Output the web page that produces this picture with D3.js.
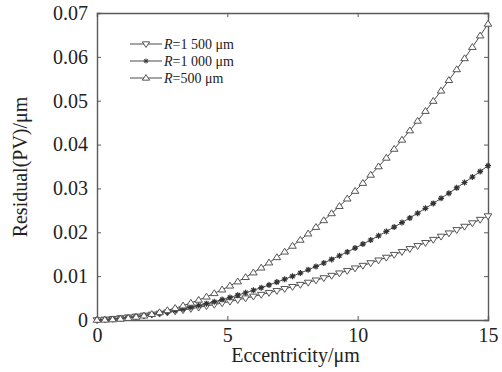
<!DOCTYPE html>
<html>
<head>
<meta charset="UTF-8">
<script src="https://d3js.org/d3.v7.min.js"></script>
<style>
  body { margin: 0; background: #fff; }
</style>
</head>
<body>
<div id="chart"></div>
<script>
    // eccentricity sample points (um)
    const ecc = [0, 0.3, 0.6, 0.9, 1.2, 1.5, 1.8, 2.1, 2.4, 2.7, 3.0, 3.3, 3.6, 3.9, 4.2, 4.5, 4.8,
        5.1, 5.4, 5.7, 6.0, 6.3, 6.6, 6.9, 7.2, 7.5, 7.8, 8.1, 8.4, 8.7, 9.0, 9.3, 9.6, 9.9,
        10.2, 10.5, 10.8, 11.1, 11.4, 11.7, 12.0, 12.3, 12.6, 12.9, 13.2, 13.5, 13.8, 14.1, 14.4, 14.7, 15.0];

    // R = 1 500 um
    const r1500 = [0, 0.00014, 0.00029, 0.00046, 0.00064, 0.00083, 0.00104, 0.00126, 0.00149, 0.00174,
        0.00200, 0.00228, 0.00257, 0.00287, 0.00319, 0.00352, 0.00386, 0.00422, 0.00459, 0.00498,
        0.00538, 0.00579, 0.00622, 0.00665, 0.00711, 0.00758, 0.00806, 0.00855, 0.00906, 0.00958,
        0.01012, 0.01067, 0.01123, 0.01181, 0.01240, 0.01300, 0.01362, 0.01425, 0.01489, 0.01555,
        0.01622, 0.01691, 0.01761, 0.01832, 0.01905, 0.01979, 0.02055, 0.02131, 0.02210, 0.02289, 0.02370];

    // R = 1 000 um
    const r1000 = [0, 0.00011, 0.00024, 0.00040, 0.00058, 0.00078, 0.00101, 0.00127, 0.00155, 0.00185,
        0.00218, 0.00253, 0.00290, 0.00330, 0.00373, 0.00417, 0.00465, 0.00514, 0.00567, 0.00621,
        0.00678, 0.00737, 0.00799, 0.00864, 0.00930, 0.00999, 0.01071, 0.01145, 0.01221, 0.01300,
        0.01382, 0.01465, 0.01551, 0.01640, 0.01731, 0.01824, 0.01920, 0.02019, 0.02119, 0.02222,
        0.02328, 0.02436, 0.02547, 0.02659, 0.02775, 0.02892, 0.03013, 0.03135, 0.03260, 0.03388, 0.03518];

    // R = 500 um
    const r500 = [0, 0.00003, 0.00011, 0.00024, 0.00043, 0.00068, 0.00097, 0.00132, 0.00173, 0.00219,
        0.00270, 0.00327, 0.00389, 0.00456, 0.00529, 0.00608, 0.00691, 0.00780, 0.00875, 0.00975,
        0.01080, 0.01191, 0.01307, 0.01428, 0.01555, 0.01688, 0.01825, 0.01968, 0.02117, 0.02271,
        0.02430, 0.02595, 0.02765, 0.02940, 0.03121, 0.03308, 0.03499, 0.03696, 0.03899, 0.04107,
        0.04320, 0.04539, 0.04763, 0.04992, 0.05227, 0.05468, 0.05713, 0.05964, 0.06221, 0.06483, 0.06750];

    const xTicks = [0, 5, 10, 15];
    const yTicks = [0, 0.01, 0.02, 0.03, 0.04, 0.05, 0.06, 0.07];

    const series = [
        {label: "=1 500 \u03bcm", values: r1500, marker: "down"},
        {label: "=1 000 \u03bcm", values: r1000, marker: "star"},
        {label: "=500 \u03bcm", values: r500, marker: "up"}
    ];

    const serif = '"Liberation Serif", "Times New Roman", Times, serif';

    const margin = {top: 13, right: 14, bottom: 52, left: 97},
        width = 502 - margin.left - margin.right,
        height = 372 - margin.top - margin.bottom;

    const svg = d3.select("#chart")
        .append("svg")
        .attr("width", 502)
        .attr("height", 372)
        .append("g")
        .attr("transform", `translate(${margin.left},${margin.top})`);

    const x = d3.scaleLinear().domain([0, 15]).range([0, width]);
    const y = d3.scaleLinear().domain([0, 0.07]).range([height, 0]);

    const axisColor = "#5a5a5a";

    // inward ticks on all four sides (matlab box)
    const fmt = d => d === 0 ? "0" : d3.format(".2f")(d);
    const gx = svg.append("g").attr("transform", `translate(0,${height})`)
        .call(d3.axisBottom(x).tickValues(xTicks).tickSize(-4).tickPadding(8).tickFormat(d3.format("d")));
    const gxTop = svg.append("g")
        .call(d3.axisTop(x).tickValues(xTicks).tickSize(-4).tickFormat(""));
    const gy = svg.append("g")
        .call(d3.axisLeft(y).tickValues(yTicks).tickSize(-4).tickPadding(9).tickFormat(fmt));
    const gyRight = svg.append("g").attr("transform", `translate(${width},0)`)
        .call(d3.axisRight(y).tickValues(yTicks).tickSize(-4).tickFormat(""));

    [gx, gxTop, gy, gyRight].forEach(g => {
        g.attr("font-family", null).attr("font-size", null);
        g.select(".domain").attr("stroke", axisColor).attr("stroke-width", 1.4);
        g.selectAll(".tick line").attr("stroke", axisColor);
        g.selectAll(".tick text")
            .style("font-family", serif)
            .style("font-size", "20px")
            .attr("fill", "#222");
    });
    gx.selectAll(".tick text").attr("dy", "0.7em");

    // marker shapes
    function markerPath(type, s) {
        if (type === "down") return `M${-s},${-s * 0.6}L${s},${-s * 0.6}L0,${s * 0.95}Z`;
        if (type === "up") return `M${-s},${s * 0.6}L${s},${s * 0.6}L0,${-s * 0.95}Z`;
        const a = s * 0.7;
        return `M${-s},0L${s},0M0,${-s}L0,${s}M${-a},${-a}L${a},${a}M${-a},${a}L${a},${-a}`;
    }

    const line = d3.line().x((d, i) => x(ecc[i])).y(d => y(d));

    const plot = svg.append("g");
    series.forEach(s => {
        plot.append("path")
            .datum(s.values)
            .attr("fill", "none")
            .attr("stroke", "#4a4a4a")
            .attr("stroke-width", 1)
            .attr("d", line);
        plot.selectAll(null)
            .data(s.values)
            .join("path")
            .attr("transform", (d, i) => `translate(${x(ecc[i])},${y(d)})`)
            .attr("d", markerPath(s.marker, s.marker === "star" ? 3 : 3.8))
            .attr("fill", s.marker === "star" ? "none" : "#fff")
            .attr("stroke", s.marker === "star" ? "#333" : "#555")
            .attr("stroke-width", s.marker === "star" ? 1.2 : 1);
    });

    // legend, no box
    const legend = svg.append("g").attr("transform", "translate(33,31)");
    series.forEach((s, i) => {
        const row = legend.append("g").attr("transform", `translate(0,${i * 17})`);
        row.append("line").attr("x1", 0).attr("x2", 32).attr("y1", 0).attr("y2", 0)
            .attr("stroke", "#4a4a4a").attr("stroke-width", 1);
        row.append("path").attr("transform", "translate(16,0)")
            .attr("d", markerPath(s.marker, s.marker === "star" ? 2.5 : 3.6))
            .attr("fill", s.marker === "star" ? "none" : "#fff")
            .attr("stroke", s.marker === "star" ? "#333" : "#555")
            .attr("stroke-width", 1);
        const t = row.append("text").attr("x", 34).attr("y", 5)
            .style("font-family", serif).style("font-size", "14px").attr("fill", "#222");
        t.append("tspan").style("font-style", "italic").text("R");
        t.append("tspan").text(s.label);
    });

    // axis titles
    svg.append("text")
        .attr("x", width / 2 + 3)
        .attr("y", height + 42)
        .attr("text-anchor", "middle")
        .style("font-family", serif)
        .style("font-size", "20px")
        .attr("fill", "#222")
        .text("Eccentricity/\u03bcm");

    svg.append("text")
        .attr("transform", `translate(${-70},${154}) rotate(-90)`)
        .attr("text-anchor", "middle")
        .style("font-family", serif)
        .style("font-size", "20px")
        .attr("fill", "#222")
        .text("Residual(PV)/\u03bcm");
</script>
</body>
</html>
